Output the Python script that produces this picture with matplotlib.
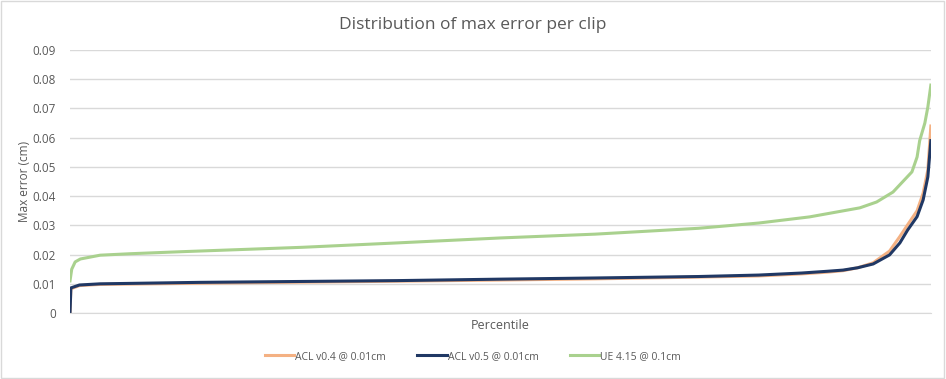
import numpy as np
import matplotlib.pyplot as plt

# percentile positions (0..100) and max error (cm)
pct_v04 = [0, 0.1, 1.1, 3.5, 15, 38, 50, 61, 73, 80, 85, 88, 89.8, 91.5, 93.3, 95.2, 96.4, 97.3, 98.4, 99.1, 99.65, 100]
err_v04 = [0, 0.0083, 0.0094, 0.0098, 0.0102, 0.0109, 0.0113, 0.0117, 0.0123, 0.0127, 0.0134, 0.0140, 0.0145, 0.0155, 0.0172, 0.0212, 0.0262, 0.0302, 0.0350, 0.0410, 0.0490, 0.0640]

pct_v05 = [0, 0.1, 1.1, 3.5, 15, 38, 50, 61, 73, 80, 85, 88, 89.8, 91.5, 93.3, 95.2, 96.4, 97.3, 98.4, 99.1, 99.65, 100]
err_v05 = [0, 0.0086, 0.0096, 0.0100, 0.0105, 0.0111, 0.0116, 0.0120, 0.0125, 0.0130, 0.0137, 0.0143, 0.0147, 0.0155, 0.0168, 0.0199, 0.0240, 0.0284, 0.0330, 0.0387, 0.0466, 0.0590]

pct_ue = [0, 0.2, 0.6, 1.2, 3.5, 7, 13, 27, 38, 50, 61, 73, 80, 85.9, 91.75, 93.7, 95.6, 97.8, 98.4, 98.7, 99.3, 99.65, 100]
err_ue = [0.0110, 0.0150, 0.0175, 0.0185, 0.0198, 0.0203, 0.0210, 0.0225, 0.0240, 0.0257, 0.0270, 0.0290, 0.0308, 0.0329, 0.0360, 0.0380, 0.0414, 0.0483, 0.0534, 0.0590, 0.0650, 0.0705, 0.0780]

labels = ["ACL v0.4 @ 0.01cm", "ACL v0.5 @ 0.01cm", "UE 4.15 @ 0.1cm"]
colors = ["#F4B183", "#203864", "#A9D18E"]

plt.rcParams['font.family'] = ['Open Sans', 'DejaVu Sans']
text_col = "#595959"

fig = plt.figure(figsize=(9.46, 3.79), dpi=100)
ax = fig.add_axes([0.074, 0.174, 0.910, 0.694])

ax.plot(pct_v04, err_v04, color=colors[0], linewidth=2.2, label=labels[0], solid_joinstyle='round')
ax.plot(pct_v05, err_v05, color=colors[1], linewidth=2.2, label=labels[1], solid_joinstyle='round')
ax.plot(pct_ue, err_ue, color=colors[2], linewidth=2.2, label=labels[2], solid_joinstyle='round')

ax.set_xlim(0, 100)
ax.set_ylim(0, 0.09)
ax.set_yticks(np.arange(0, 0.0901, 0.01))
ax.set_yticklabels(["0"] + ["%.2f" % v for v in np.arange(0.01, 0.0901, 0.01)])
ax.set_xticks([])
ax.grid(axis='y', color="#D9D9D9", linewidth=1)
ax.set_axisbelow(True)
for s in ['top', 'right', 'left']:
    ax.spines[s].set_visible(False)
ax.spines['bottom'].set_color("#D9D9D9")
ax.tick_params(axis='y', length=0, labelsize=8.5, colors=text_col, pad=10)

ax.set_ylabel("Max error (cm)", fontsize=8.5, color=text_col, labelpad=0)
ax.yaxis.set_label_coords(-0.045, 0.5)
ax.set_xlabel("Percentile", fontsize=9, color=text_col, labelpad=4)
fig.text(0.5, 0.934, "Distribution of max error per clip", ha='center', va='center',
         fontsize=12.5, color=text_col)

fig.legend(loc='center', bbox_to_anchor=(0.5, 0.06), ncol=3, frameon=False,
           fontsize=7.5, labelcolor=text_col, handlelength=2.8, handletextpad=0.1,
           columnspacing=3.0)

# thin light frame round the whole chart
fig.patches.append(plt.Rectangle((0.001, 0.002), 0.997, 0.995, transform=fig.transFigure,
                                 fill=False, edgecolor="#D9D9D9", linewidth=1))

fig.savefig("out.png", dpi=100)
